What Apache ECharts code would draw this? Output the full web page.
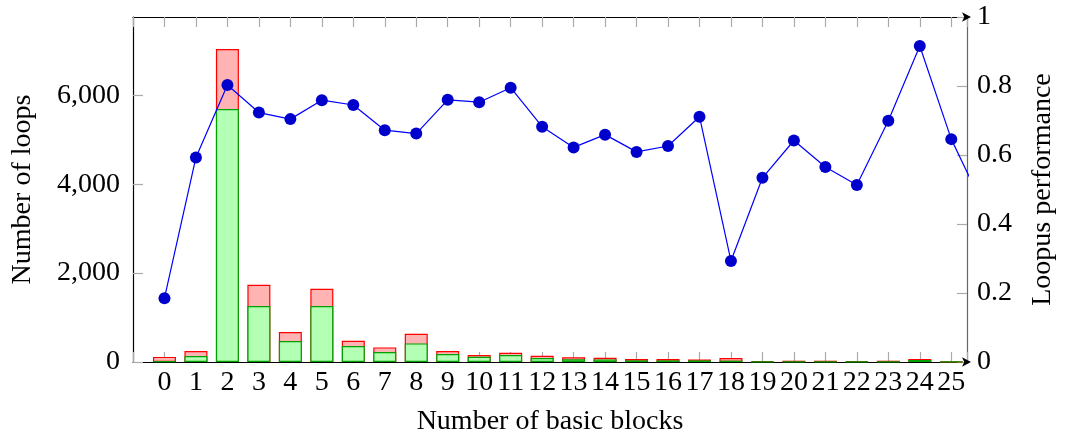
<!DOCTYPE html>
<html>
<head>
<meta charset="utf-8">
<script src="https://cdn.jsdelivr.net/npm/echarts@6/dist/echarts.min.js"></script>
<style>html,body{margin:0;padding:0;background:#fff}#c{width:1066px;height:441px}</style>
</head>
<body>
<div id="c"></div>
<script>
// Number of basic blocks (x positions)
const blocks = [0,1,2,3,4,5,6,7,8,9,10,11,12,13,14,15,16,17,18,19,20,21,22,23,24,25];
// Green (lower) bar segment, number of loops
const greenLoops = [15,135,5690,1257,471,1257,359,224,418,180,119,157,90,60,58,36,36,36,30,7,10,10,8,10,45,8];
// Red (upper) bar segment, added on top of green
const redLoops = [100,112,1350,478,202,388,119,104,217,67,38,52,51,45,39,31,31,22,60,15,19,19,14,19,22,2];
// Loopus performance line (x, value); last point lies past the axis end and is clipped
const perfX = [0,1,2,3,4,5,6,7,8,9,10,11,12,13,14,15,16,17,18,19,20,21,22,23,24,25,26];
const perfValues = [0.185,0.593,0.803,0.723,0.704,0.759,0.745,0.672,0.662,0.760,0.753,0.795,0.682,0.622,0.659,0.609,0.626,0.711,0.293,0.534,0.642,0.565,0.513,0.699,0.916,0.646,0.456];
// Tick labels
const leftTicks = [0,2000,4000,6000];
const rightTicks = [0,0.2,0.4,0.6,0.8,1];

const FONT = '"Liberation Serif", "DejaVu Serif", serif';
const chart = echarts.init(document.getElementById('c'), null, {renderer:'canvas'});
const fmtThousands = v => String(v).replace(/\B(?=(\d{3})+(?!\d))/g, ',');
// stacked totals (green + red) for the upper segment
const totalLoops = greenLoops.map((g,i) => g + redLoops[i]);

chart.setOption({
  animation: false,
  backgroundColor: '#fff',
  grid: {left: 133, right: 99, top: 17, bottom: 78, containLabel: false},
  xAxis: [{
    type: 'value', min: -1, max: 25.5, interval: 1, position: 'bottom',
    name: 'Number of basic blocks', nameLocation: 'middle', nameGap: 46,
    nameTextStyle: {fontFamily: FONT, fontSize: 28, color: '#000'},
    axisLine: {show: true, onZero: false, symbol: ['none','arrow'], symbolSize: [7,9], symbolOffset: [0,4], lineStyle: {color: '#000', width: 1.2}},
    axisTick: {show: true, inside: true, length: 10, lineStyle: {color: '#aaa', width: 1.2}},
    axisLabel: {fontFamily: FONT, fontSize: 28, color: '#000', margin: 7,
      formatter: v => (Number.isInteger(v) && blocks.includes(v)) ? String(v) : ''},
    splitLine: {show: false}
  }, {
    type: 'value', min: -1, max: 25.5, interval: 1, position: 'top',
    axisLine: {show: true, onZero: false, symbol: ['none','arrow'], symbolSize: [7,9], symbolOffset: [0,4], lineStyle: {color: '#000', width: 1.2}},
    axisTick: {show: true, inside: true, length: 10, lineStyle: {color: '#aaa', width: 1.2}},
    axisLabel: {show: false},
    splitLine: {show: false}
  }],
  yAxis: [{
    type: 'value', min: 0, max: 7760, interval: 2000, position: 'left',
    name: 'Number of loops', nameLocation: 'middle', nameGap: 96, nameRotate: 90,
    nameTextStyle: {fontFamily: FONT, fontSize: 28, color: '#000'},
    axisLine: {show: true, onZero: false, lineStyle: {color: '#000', width: 1.2}},
    axisTick: {show: true, inside: true, length: 10, lineStyle: {color: '#aaa', width: 1.2},
      customValues: leftTicks},
    axisLabel: {fontFamily: FONT, fontSize: 28, color: '#000', margin: 13,
      formatter: v => leftTicks.includes(v) ? fmtThousands(v) : ''},
    splitLine: {show: false}
  }, {
    type: 'value', min: 0, max: 1, interval: 0.2, position: 'right',
    name: 'Loopus performance', nameLocation: 'middle', nameGap: 62, nameRotate: 90,
    nameTextStyle: {fontFamily: FONT, fontSize: 28, color: '#000'},
    axisLine: {show: true, onZero: false, lineStyle: {color: '#666', width: 1.2}},
    axisTick: {show: true, inside: true, length: 10, lineStyle: {color: '#aaa', width: 1.2}},
    axisLabel: {fontFamily: FONT, fontSize: 28, color: '#000', margin: 10,
      formatter: v => { const r = Math.round(v*10)/10; return rightTicks.some(t => Math.abs(t-r)<1e-9) ? String(r) : ''; }},
    splitLine: {show: false}
  }],
  series: [{
    name: 'total', type: 'bar', xAxisIndex: 0, yAxisIndex: 0, barWidth: 23, barGap: '-100%',
    data: blocks.map((b,i) => [b, totalLoops[i]]),
    itemStyle: {color: '#ffb3b3', borderColor: '#ff0000', borderWidth: 1.2},
    z: 2
  }, {
    name: 'green', type: 'bar', xAxisIndex: 0, yAxisIndex: 0, barWidth: 23, barGap: '-100%',
    data: blocks.map((b,i) => [b, greenLoops[i]]),
    itemStyle: {color: '#b3ffb3', borderColor: '#00a000', borderWidth: 1.2},
    z: 3
  }, {
    type: 'line', xAxisIndex: 0, yAxisIndex: 1, clip: true,
    data: perfX.map((x,i) => [x, perfValues[i]]),
    symbol: 'circle', symbolSize: 12, showAllSymbol: true,
    lineStyle: {color: '#0000ff', width: 1.2},
    itemStyle: {color: '#0000cc'},
    z: 5
  }]
});
</script>
</body>
</html>
